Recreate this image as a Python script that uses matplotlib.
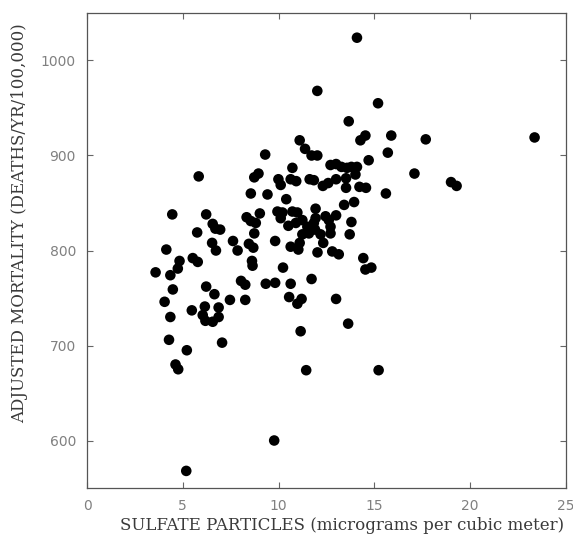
import matplotlib
matplotlib.use("Agg")
import matplotlib.pyplot as plt

sulfate = [
    3.58, 4.05, 4.14, 4.28, 4.35, 4.35, 4.45, 4.48, 4.62, 4.76, 4.74, 4.83,
    5.18, 5.21, 5.47, 5.52, 5.78, 5.75, 5.83, 6.04, 6.18, 6.15, 6.22, 6.22,
    6.56, 6.53, 6.73, 6.56, 6.70, 6.95, 6.65, 6.87, 6.87, 7.05, 7.46, 7.62,
    7.86, 8.04, 8.26, 8.26, 8.33, 8.55, 8.81, 8.45, 8.68, 8.61, 8.64, 8.73,
    8.55, 8.73, 8.95, 9.02, 9.30, 9.42, 9.33, 9.77, 9.82, 9.82, 9.94, 10.20,
    10.11, 9.99, 10.11,
    10.23, 10.40, 10.55, 10.63, 10.63, 11.03, 11.10, 10.98, 11.20, 11.15,
    11.44, 10.63, 10.92, 10.72, 10.72, 10.98, 10.51, 10.90, 11.24, 11.50,
    11.84, 11.93, 11.58, 11.90, 11.24, 11.10, 11.38, 11.72, 12.02, 11.62,
    11.84, 11.72, 11.93, 12.02, 12.03, 12.19, 12.33, 12.31, 12.59, 12.45,
    12.62, 12.71, 12.71, 12.71, 13.00, 13.28, 12.80, 13.14, 13.00, 13.00,
    13.00, 13.42, 13.52, 13.52, 13.57, 13.80, 14.09, 13.63, 13.66, 13.71,
    13.80, 13.94, 14.01, 14.09, 14.22, 14.56, 14.27, 14.53, 14.42, 14.53,
    14.84, 14.70, 15.19, 15.22, 15.60, 15.70, 15.88, 17.09, 17.68, 19.00,
    19.29, 23.36,
]
mortality = [
    777, 746, 801, 706, 730, 774, 838, 759, 680, 675, 781, 789,
    568, 695, 737, 792, 788, 819, 878, 732, 726, 741, 762, 838,
    725, 808, 800, 828, 823, 822, 754, 740, 730, 703, 748, 810,
    800, 768, 764, 748, 835, 831, 829, 807, 803, 789, 784, 818,
    860, 877, 881, 839, 901, 859, 765, 600, 766, 810, 841, 840,
    834, 875, 869,
    782, 854, 751, 765, 804, 801, 808, 744, 749, 715,
    674, 875, 873, 887, 841, 840, 826, 829, 832, 825,
    829, 834, 818, 822, 817, 916, 907, 900, 900, 875,
    874, 770, 844, 968, 798, 817, 808, 868, 871, 836,
    832, 825, 818, 890, 891, 888, 799, 796, 875, 837,
    749, 848, 876, 866, 887, 888, 888, 723, 936, 817,
    830, 851, 880, 1024, 867, 866, 916, 921, 792, 780,
    782, 895, 955, 674, 860, 903, 921, 881, 917, 872,
    868, 919,
]

x_ticks = [0, 5, 10, 15, 20, 25]
y_ticks = [600, 700, 800, 900, 1000]
x_label = "SULFATE PARTICLES (micrograms per cubic meter)"
y_label = "ADJUSTED MORTALITY (DEATHS/YR/100,000)"

fig = plt.figure(figsize=(5.73, 5.37), dpi=100)
ax = fig.add_axes([87 / 573, 1 - 488 / 537, 479 / 573, 475 / 537])

ax.scatter(sulfate, mortality, s=58, color="black", edgecolors="none", zorder=3)

ax.set_xlim(0, 25)
ax.set_ylim(550, 1050)
ax.set_xticks(x_ticks)
ax.set_yticks(y_ticks)
ax.set_xticklabels([str(t) for t in x_ticks])
ax.set_yticklabels([str(t) for t in y_ticks])

ax.tick_params(direction="in", length=4, width=0.8, color="#666666",
               top=True, right=True, labelsize=10, labelcolor="#808080", pad=8)
for sp in ax.spines.values():
    sp.set_color("#555555")
    sp.set_linewidth(0.9)

ax.set_xlabel(x_label, family="DejaVu Serif", fontsize=12, color="#3a3a3a")
ax.set_ylabel(y_label, family="DejaVu Serif", fontsize=12, color="#3a3a3a")
ax.xaxis.set_label_coords((342 - 87) / 479, (488 - 525) / 475)
ax.yaxis.set_label_coords((20 - 87) / 479, (488 - 223) / 475)
ax.xaxis.label.set_verticalalignment("center")
ax.yaxis.label.set_verticalalignment("center")

fig.savefig("out.png", dpi=100)
